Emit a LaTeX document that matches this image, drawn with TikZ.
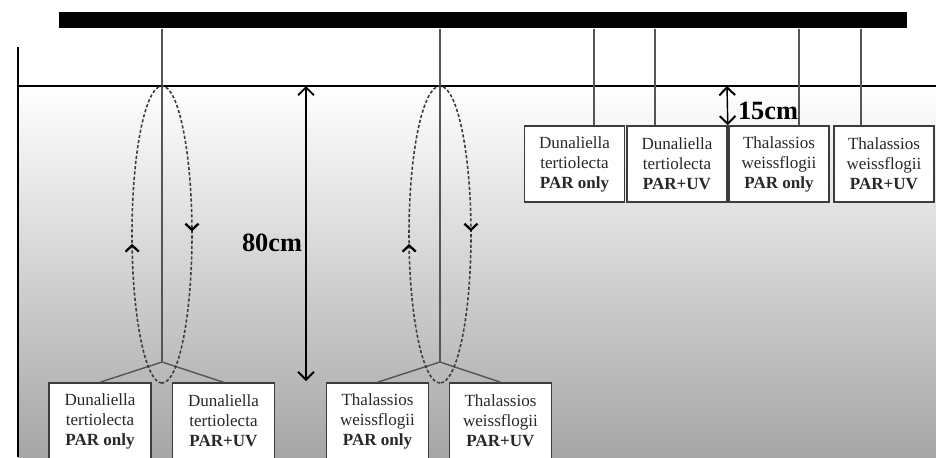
\documentclass[tikz,border=0pt]{standalone}
\usepackage{fontspec}
\setmainfont{Liberation Serif}
\usetikzlibrary{arrows.meta,positioning,decorations.markings}
\definecolor{boxline}{RGB}{60,60,60}
\definecolor{boxtext}{RGB}{40,40,40}
\definecolor{ropegray}{RGB}{85,85,85}
\definecolor{loopgray}{RGB}{60,60,60}
\definecolor{deepwater}{RGB}{166,166,166}

\begin{document}
\begin{tikzpicture}[x=0.02cm, y=-0.02cm,
    sample/.style={rectangle, draw=boxline, fill=white, line width=0.9pt, text=boxtext, align=center, minimum width=2cm, minimum height=1.52cm, inner sep=1pt, font=\fontsize{9.7}{11.4}\selectfont},
    rope/.style={draw=ropegray, line width=0.8pt},
    measure/.style={{Straight Barb[length=4.5pt,width=9pt,line width=1.1pt]}-{Straight Barb[length=4.5pt,width=9pt,line width=1.1pt]}, line width=0.8pt},
    dimtext/.style={font=\fontsize{15}{18}\selectfont\bfseries},
    mixing/.style={draw=loopgray, line width=0.9pt, dash pattern=on 1.8pt off 1.2pt, postaction={decorate},
        decoration={markings,
            mark=at position 0.235 with {\arrow[black]{Straight Barb[length=3.5pt,width=7.5pt,line width=1.3pt]}},
            mark=at position 0.745 with {\arrow[black]{Straight Barb[length=3.5pt,width=7.5pt,line width=1.3pt]}}}}]
    \useasboundingbox (0,0) rectangle (936,457);

    % Water column
    \shade[top color=white, bottom color=deepwater] (18,86) rectangle (936,457);
    \draw[line width=1.7pt] (18,47) -- (18,457);
    \draw[line width=0.9pt] (18,86) -- (936,86);

    % Bar
    \node[fill=black, minimum width=16.96cm, minimum height=0.32cm, inner sep=0pt, anchor=north west] (bar) at (59,12) {};

    % Mixed bottles
    \node[sample, minimum width=2.04cm] (b1) at (100,421) {Dunaliella\\tertiolecta\\\textbf{PAR only}};
    \node[sample, minimum width=2.04cm] (b2) at (223.5,421) {Dunaliella\\tertiolecta\\\textbf{PAR+UV}};
    \node[sample, minimum width=2.04cm] (b3) at (377.5,421) {Thalassios\\weissflogii\\\textbf{PAR only}};
    \node[sample, minimum width=2.04cm] (b4) at (500.5,421) {Thalassios\\weissflogii\\\textbf{PAR+UV}};

    % Fixed bottles
    \node[sample] (t1) at (574.5,164) {Dunaliella\\tertiolecta\\\textbf{PAR only}};
    \node[sample] (t2) at (677,164) {Dunaliella\\tertiolecta\\\textbf{PAR+UV}};
    \node[sample] (t3) at (779,164) {Thalassios\\weissflogii\\\textbf{PAR only}};
    \node[sample] (t4) at (884,164) {Thalassios\\weissflogii\\\textbf{PAR+UV}};

    % Ropes
    \coordinate (k1) at (162,362);
    \coordinate (k2) at (440,362);
    \draw[rope] (bar.south -| k1) -- (k1);
    \draw[rope] (b1.north) -- (k1) -- (b2.north);
    \draw[rope] (bar.south -| k2) -- (k2);
    \draw[rope] (b3.north) -- (k2) -- (b4.north);
    \foreach \x/\b in {594/t1, 655/t2, 799/t3, 861/t4}
        \draw[rope] (bar.south -| \x,0) -- (\b.north -| \x,0);

    % Mixing loops
    \coordinate (e1) at (162,383);
    \coordinate (e2) at (440,383);
    \draw[mixing] (e1) arc[start angle=90, end angle=450, x radius=30, y radius=148.5];
    \draw[mixing] (e2) arc[start angle=90, end angle=450, x radius=31, y radius=148.5];

    % Depths
    \coordinate (d80a) at (306,86);
    \coordinate (d80b) at (306,381);
    \draw[measure] (d80a) -- (d80b);
    \node[dimtext] (l80) at (272,243) {80cm};
    \coordinate (s15) at (727,86);
    \draw[measure] (s15) -- (t2.north east);
    \node[dimtext] (l15) at (768,111) {15cm};
\end{tikzpicture}
\end{document}
